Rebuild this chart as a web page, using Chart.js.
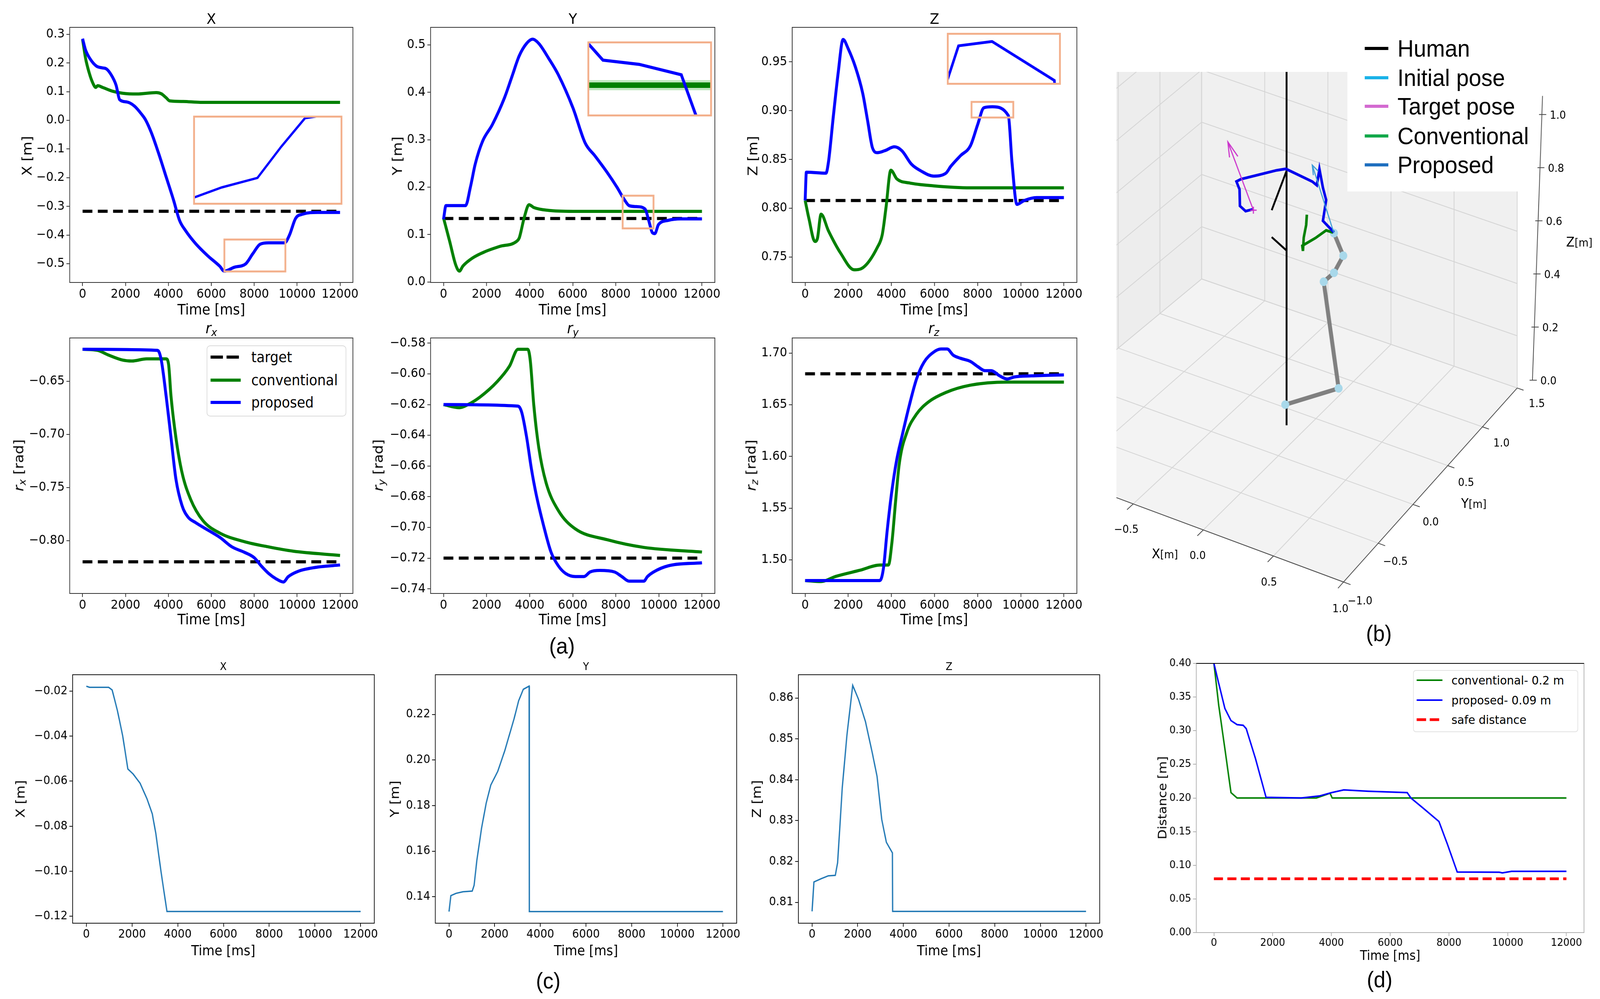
<!DOCTYPE html>
<html lang="en">
<head>
<meta charset="UTF-8">
<title>Proposed vs conventional controller</title>
<style>
  html, body { margin: 0; padding: 0; background: #fff; overflow: hidden; }
  #fig { position: absolute; left: 0; top: 0; width: 4407px; height: 2557px; transform-origin: 0 0; background: #fff;
         font-family: 'DejaVu Sans', sans-serif; color: #000; }
  canvas { position: absolute; }
  .lbl { position: absolute; white-space: nowrap; line-height: 1; transform: translate(-50%, -50%); }
  .lbl.rot { transform: translate(-50%, -50%) rotate(-90deg); }
  .lbl.left { transform: translate(0, -50%); }
  .lbl sub { font-size: 0.72em; vertical-align: -0.25em; }
  .box { position: absolute; background: #fff; box-sizing: border-box; }
  svg.key { position: absolute; overflow: visible; }
</style>
</head>
<body>
<div id="fig"></div>
<script src="https://cdn.jsdelivr.net/npm/chart.js"></script>
<script>
// ---------------- data ----------------
const timeTicks = [0, 2000, 4000, 6000, 8000, 10000, 12000];
const timeRange = [-600, 12600];
const seriesNames = ['target', 'conventional', 'proposed'];

// (a) X position
const posXPropT = [0, 137, 364, 650, 933, 1104, 1332, 1560, 1730, 2072, 2414, 2755, 2926, 3211, 3552, 3894, 4235, 4520, 4804, 5260, 5829, 6398, 6603, 7081, 7594, 7935, 8276, 8675, 9415, 9643, 9928, 10269, 10952, 12000];
const posXPropV = [0.285, 0.246, 0.213, 0.189, 0.183, 0.180, 0.159, 0.123, 0.072, 0.064, 0.050, 0.021, 0.003, -0.044, -0.117, -0.197, -0.277, -0.349, -0.385, -0.429, -0.472, -0.509, -0.526, -0.512, -0.501, -0.465, -0.432, -0.427, -0.427, -0.400, -0.342, -0.327, -0.321, -0.321];
const posXConvT = [0, 137, 307, 478, 615, 706, 933, 1389, 1844, 2527, 3438, 3666, 3894, 4064, 4691, 5488, 7537, 12000];
const posXConvV = [0.282, 0.217, 0.166, 0.130, 0.115, 0.121, 0.115, 0.102, 0.095, 0.092, 0.097, 0.093, 0.079, 0.068, 0.066, 0.063, 0.063, 0.063];
const posXTarget = -0.317;
const posXTicks = [0.3, 0.2, 0.1, 0.0, -0.1, -0.2, -0.3, -0.4, -0.5];

// (a) Y position
const posYPropT = [0, 113, 1021, 1248, 1474, 1815, 2268, 2836, 3176, 3516, 3856, 4140, 4423, 4877, 5331, 6011, 6578, 7032, 7599, 8052, 8393, 8620, 8960, 9357, 9527, 9697, 9811, 9981, 10435, 11002, 12000];
const posYPropV = [0.132, 0.161, 0.161, 0.200, 0.249, 0.297, 0.332, 0.389, 0.433, 0.477, 0.503, 0.512, 0.503, 0.472, 0.437, 0.367, 0.293, 0.266, 0.231, 0.200, 0.174, 0.161, 0.159, 0.154, 0.130, 0.104, 0.102, 0.121, 0.130, 0.133, 0.133];
const posYConvT = [0, 284, 567, 737, 907, 1361, 1928, 2609, 3403, 3516, 3743, 3970, 4196, 4877, 6011, 12000];
const posYConvV = [0.135, 0.086, 0.036, 0.023, 0.034, 0.051, 0.064, 0.075, 0.086, 0.093, 0.135, 0.163, 0.157, 0.151, 0.149, 0.149];
const posYTarget = 0.134;
const posYTicks = [0.0, 0.1, 0.2, 0.3, 0.4, 0.5];

// (a) Z position
const posZPropT = [0, 57, 965, 1079, 1306, 1533, 1760, 1987, 2327, 2668, 2895, 3122, 3349, 3690, 4144, 4484, 4938, 5393, 5960, 6528, 6755, 7209, 7663, 8004, 8288, 8685, 9423, 9593, 9820, 10161, 10729, 12000];
const posZPropV = [0.808, 0.837, 0.836, 0.847, 0.894, 0.939, 0.973, 0.964, 0.945, 0.918, 0.890, 0.862, 0.857, 0.859, 0.863, 0.859, 0.845, 0.838, 0.833, 0.836, 0.843, 0.854, 0.864, 0.886, 0.903, 0.904, 0.895, 0.847, 0.804, 0.808, 0.811, 0.811];
const posZConvT = [0, 170, 454, 568, 738, 1079, 1646, 2271, 2668, 3349, 3576, 3746, 3973, 4257, 4825, 5960, 7663, 12000];
const posZConvV = [0.808, 0.790, 0.766, 0.769, 0.794, 0.777, 0.754, 0.737, 0.739, 0.760, 0.773, 0.800, 0.839, 0.830, 0.826, 0.823, 0.821, 0.821];
const posZTarget = 0.808;
const posZTicks = [0.75, 0.80, 0.85, 0.90, 0.95];

// (a) rotation rx
const rotXPropT = [0, 3495, 3666, 3894, 4121, 4349, 4634, 4918, 5260, 5829, 6398, 6967, 7537, 7992, 8333, 8675, 9017, 9358, 9586, 10042, 10952, 12000];
const rotXPropV = [-0.620, -0.621, -0.630, -0.664, -0.703, -0.742, -0.767, -0.778, -0.783, -0.790, -0.797, -0.806, -0.811, -0.816, -0.824, -0.831, -0.836, -0.839, -0.834, -0.829, -0.825, -0.823];
const rotXConvT = [0, 706, 1161, 1844, 2300, 2983, 3894, 4007, 4121, 4349, 4634, 5032, 5601, 6398, 7537, 8675, 9814, 12000];
const rotXConvV = [-0.620, -0.621, -0.625, -0.630, -0.631, -0.629, -0.629, -0.634, -0.664, -0.703, -0.736, -0.761, -0.781, -0.793, -0.801, -0.806, -0.810, -0.814];
const rotXTarget = -0.820;
const rotXTicks = [-0.65, -0.70, -0.75, -0.80];

// (a) rotation ry
const rotYPropT = [0, 3459, 3630, 3856, 4083, 4310, 4650, 4990, 5331, 5671, 6125, 6522, 6805, 7259, 7939, 8279, 8620, 9300, 9470, 9754, 10435, 12000];
const rotYPropV = [-0.620, -0.621, -0.625, -0.641, -0.662, -0.679, -0.699, -0.716, -0.725, -0.730, -0.732, -0.732, -0.729, -0.728, -0.729, -0.732, -0.735, -0.735, -0.732, -0.729, -0.725, -0.723];
const rotYConvT = [0, 737, 1134, 1701, 2495, 3062, 3459, 3913, 4026, 4196, 4423, 4764, 5331, 6125, 7599, 9300, 12000];
const rotYConvV = [-0.620, -0.622, -0.620, -0.615, -0.605, -0.595, -0.584, -0.584, -0.591, -0.621, -0.648, -0.671, -0.689, -0.701, -0.708, -0.713, -0.716];
const rotYTarget = -0.720;
const rotYTicks = [-0.58, -0.60, -0.62, -0.64, -0.66, -0.68, -0.70, -0.72, -0.74];

// (a) rotation rz
const rotZPropT = [0, 3463, 3633, 3803, 4030, 4257, 4484, 4825, 5165, 5506, 5960, 6301, 6585, 6868, 7209, 7663, 8004, 8345, 8629, 9026, 9367, 9707, 10502, 12000];
const rotZPropV = [1.480, 1.480, 1.492, 1.528, 1.568, 1.598, 1.619, 1.649, 1.675, 1.691, 1.701, 1.704, 1.704, 1.698, 1.695, 1.692, 1.687, 1.683, 1.683, 1.678, 1.675, 1.677, 1.678, 1.679];
const rotZConvT = [0, 738, 1419, 2554, 3463, 3860, 4030, 4200, 4371, 4711, 5165, 5733, 6528, 7663, 9367, 12000];
const rotZConvV = [1.480, 1.479, 1.484, 1.490, 1.495, 1.495, 1.518, 1.558, 1.594, 1.623, 1.641, 1.653, 1.662, 1.669, 1.672, 1.672];
const rotZTarget = 1.680;
const rotZTicks = [1.50, 1.55, 1.60, 1.65, 1.70];

// (c) single trajectory
const cXT = [0, 137, 977, 1130, 1359, 1588, 1817, 2046, 2351, 2656, 2885, 3038, 3267, 3527, 12000];
const cXV = [-0.0178, -0.0183, -0.0183, -0.0195, -0.0286, -0.0397, -0.0546, -0.0568, -0.0609, -0.0679, -0.0745, -0.0831, -0.1002, -0.1179, -0.1179];
const cXTicks = [-0.02, -0.04, -0.06, -0.08, -0.10, -0.12];
const cYT = [0, 81, 305, 610, 1017, 1098, 1220, 1424, 1627, 1830, 2135, 2440, 2644, 2847, 3051, 3254, 3509, 3519, 12000];
const cYV = [0.1335, 0.1405, 0.1415, 0.1422, 0.1425, 0.145, 0.156, 0.170, 0.181, 0.189, 0.195, 0.204, 0.211, 0.218, 0.226, 0.231, 0.2324, 0.1335, 0.1335];
const cYTicks = [0.14, 0.16, 0.18, 0.20, 0.22];
const cZT = [0, 81, 407, 712, 1017, 1119, 1322, 1525, 1780, 2034, 2339, 2644, 2847, 3051, 3254, 3519, 3529, 12000];
const cZV = [0.8078, 0.815, 0.8158, 0.8165, 0.8166, 0.8197, 0.838, 0.8508, 0.8631, 0.8597, 0.8542, 0.8464, 0.8408, 0.8303, 0.8247, 0.8221, 0.8078, 0.8078];
const cZTicks = [0.81, 0.82, 0.83, 0.84, 0.85, 0.86];

// (d) distance
const distPropT = [0, 166, 374, 581, 789, 997, 1100, 1412, 1775, 2969, 3592, 4007, 4422, 5252, 6581, 6706, 7121, 7661, 7951, 8283, 9716, 9819, 10131, 12000];
const distPropV = [0.40, 0.370, 0.333, 0.315, 0.309, 0.308, 0.303, 0.259, 0.201, 0.200, 0.203, 0.208, 0.212, 0.210, 0.208, 0.200, 0.185, 0.165, 0.131, 0.090, 0.0897, 0.0887, 0.091, 0.091];
const distConvT = [0, 166, 374, 581, 789, 3488, 3955, 4027, 12000];
const distConvV = [0.40, 0.337, 0.273, 0.208, 0.200, 0.200, 0.207, 0.200, 0.200];
const safeDistance = 0.08;
const distTicks = [0.00, 0.05, 0.10, 0.15, 0.20, 0.25, 0.30, 0.35, 0.40];
const distNames = ['conventional- 0.2 m', 'proposed- 0.09 m', 'safe distance'];

// (b) 3D scene, world coordinates [x, y, z] in m
const humanPole = [[-0.125, 0.33, 0], [-0.125, 0.33, 1.4]];
const humanArmA = [[-0.125, 0.33, 0.974], [-0.237, 0.33, 0.803]];
const humanArmB = [[-0.125, 0.33, 0.669], [-0.237, 0.33, 0.700]];
const robotJoints = [[-0.25, 0.53, 0], [-0.045, 0.88, 0], [-0.16, 0.88, 0.388], [-0.081, 0.88, 0.436], [-0.009, 0.88, 0.514], [-0.081, 0.88, 0.588]];
const propPath3d = [[-0.081, 0.88, 0.591], [-0.166, 0.88, 0.620], [-0.141, 0.88, 0.704], [-0.166, 0.88, 0.747], [-0.193, 0.88, 0.814], [-0.213, 0.88, 0.748], [-0.248, 0.88, 0.756], [-0.452, 0.88, 0.769], [-0.523, 0.88, 0.751], [-0.798, 0.88, 0.669], [-0.833, 0.88, 0.654], [-0.809, 0.88, 0.628], [-0.806, 0.88, 0.565], [-0.762, 0.88, 0.553], [-0.702, 0.88, 0.571]];
const convPath3d = [[-0.089, 0.88, 0.589], [-0.141, 0.88, 0.588], [-0.224, 0.88, 0.544], [-0.295, 0.88, 0.511], [-0.325, 0.88, 0.497], [-0.320, 0.88, 0.478], [-0.314, 0.88, 0.530], [-0.295, 0.88, 0.582], [-0.290, 0.88, 0.622]];
const targetShaft = [[-0.702, 0.88, 0.567], [-0.899, 0.88, 0.794]];
const targetHead = [[-0.886, 0.88, 0.737], [-0.899, 0.88, 0.794], [-0.822, 0.88, 0.752]];
const initShaft = [[-0.081, 0.88, 0.588], [-0.248, 0.88, 0.819]];
const initHead = [[-0.240, 0.88, 0.782], [-0.248, 0.88, 0.819], [-0.202, 0.88, 0.804]];
const x3Grid = [-1.5, -1.0, -0.5, 0.0, 0.5, 1.0];
const x3Labels = [-0.5, 0.0, 0.5, 1.0];
const y3Ticks = [-1.0, -0.5, 0.0, 0.5, 1.0, 1.5];
const z3Ticks = [0.0, 0.2, 0.4, 0.6, 0.8, 1.0];
const sceneNames = ['Human', 'Initial pose', 'Target pose', 'Conventional', 'Proposed'];

// ---------------- page scaling ----------------
// the figure is laid out on a 4407 x 2557 grid and stretched to the viewport
const fig = document.getElementById('fig');
const FIG_W = 4407, FIG_H = 2557;
const fitX = (window.innerWidth || FIG_W) / FIG_W;
const fitY = (window.innerHeight || FIG_H) / FIG_H;
fig.style.transform = 'scale(' + fitX + ',' + fitY + ')';
document.body.style.width = (FIG_W * fitX) + 'px';
document.body.style.height = (FIG_H * fitY) + 'px';

// ---------------- helpers ----------------
const FONT = "'DejaVu Sans', sans-serif";
const ARIAL = "'Liberation Sans', Arial, sans-serif";
const BLUE = '#0000ff', GREEN = '#008000', ORANGE = '#f3b08c';

function fmt(v, dec) { return v.toFixed(dec).replace('-', '\u2212'); }
function pts(t, v) { return t.map((x, i) => ({ x: x, y: v[i] })); }

function addCanvas(l, t, w, h) {
  const c = document.createElement('canvas');
  c.width = w; c.height = h;
  c.style.left = l + 'px'; c.style.top = t + 'px';
  c.style.width = w + 'px'; c.style.height = h + 'px';
  fig.appendChild(c);
  return c;
}

function label(html, x, y, size, cls, family) {
  const d = document.createElement('div');
  d.className = 'lbl' + (cls ? ' ' + cls : '');
  d.innerHTML = html;
  d.style.left = x + 'px'; d.style.top = y + 'px'; d.style.fontSize = size + 'px';
  if (family) d.style.fontFamily = family;
  fig.appendChild(d);
  return d;
}

function series(t, v, color, width, extra) {
  return Object.assign({ data: pts(t, v), borderColor: color, borderWidth: width, pointRadius: 0,
    fill: false, cubicInterpolationMode: 'monotone' }, extra || {});
}
function straight(t, v, color, width, extra) {
  return series(t, v, color, width, Object.assign({ cubicInterpolationMode: 'default', tension: 0 }, extra || {}));
}
function level(val, color, width, dash) {
  return straight([0, 12000], [val, val], color, width, { borderDash: dash });
}

// box around the plot area, like matplotlib spines
const framePlugin = {
  id: 'frame',
  afterDraw(chart, args, o) {
    const a = chart.chartArea, ctx = chart.ctx;
    ctx.save();
    ctx.lineWidth = o.width || 2;
    ctx.strokeStyle = o.color || '#333';
    ctx.strokeRect(a.left, a.top, a.right - a.left, a.bottom - a.top);
    if (o.topColor) {
      ctx.strokeStyle = o.topColor;
      ctx.beginPath(); ctx.moveTo(a.left, a.top); ctx.lineTo(a.right, a.top); ctx.stroke();
    }
    ctx.restore();
  }
};

// orange rectangle marking the zoomed region
const zoomRectPlugin = {
  id: 'zoomRect',
  afterDatasetsDraw(chart, args, o) {
    if (!o.rect) return;
    const sx = chart.scales.x, sy = chart.scales.y, r = o.rect, ctx = chart.ctx;
    const x0 = sx.getPixelForValue(r[0]), x1 = sx.getPixelForValue(r[1]);
    const y0 = sy.getPixelForValue(r[2]), y1 = sy.getPixelForValue(r[3]);
    ctx.save();
    ctx.strokeStyle = ORANGE; ctx.lineWidth = 5;
    ctx.strokeRect(x0, y1, x1 - x0, y0 - y1);
    ctx.restore();
  }
};

const insetPlugin = {
  id: 'insetBox',
  beforeDraw(chart) {
    const a = chart.chartArea, ctx = chart.ctx;
    ctx.save(); ctx.fillStyle = '#fff';
    ctx.fillRect(a.left, a.top, a.right - a.left, a.bottom - a.top);
    ctx.restore();
  },
  afterDraw(chart) {
    const a = chart.chartArea, ctx = chart.ctx;
    ctx.save(); ctx.strokeStyle = ORANGE; ctx.lineWidth = 5;
    ctx.strokeRect(a.left + 2.5, a.top + 2.5, a.right - a.left - 5, a.bottom - a.top - 5);
    ctx.restore();
  }
};

function linePlot(o) {
  const [l, t, r, b] = o.box, [pl, pt, pr, pb] = o.pad;
  const cv = addCanvas(l - pl, t - pt, r - l + pl + pr, b - t + pt + pb);
  const font = { family: FONT, size: o.fontSize };
  const axisCol = o.axisColor || '#333';
  const grid = { drawOnChartArea: false, drawTicks: true, tickLength: 9, color: axisCol, lineWidth: 2 };
  return new Chart(cv, {
    type: 'line',
    data: { datasets: o.datasets },
    plugins: [framePlugin, zoomRectPlugin],
    options: {
      responsive: false, animation: false, devicePixelRatio: 1,
      layout: { padding: { left: 0, top: pt, right: pr, bottom: 0 } },
      plugins: {
        legend: { display: false }, tooltip: { enabled: false },
        frame: { color: axisCol, topColor: o.topColor },
        zoomRect: { rect: o.rect }
      },
      scales: {
        x: {
          type: 'linear', min: timeRange[0], max: timeRange[1],
          afterBuildTicks: s => { s.ticks = timeTicks.map(v => ({ value: v })); },
          afterFit: s => { s.height = pb; },
          ticks: { font: font, color: '#000', padding: 2, maxRotation: 0, autoSkip: false, callback: v => fmt(v, 0) },
          grid: grid, border: { display: true, color: axisCol, width: 2 }
        },
        y: {
          type: 'linear', min: o.yRange[0], max: o.yRange[1],
          afterBuildTicks: s => { s.ticks = o.yTicks.map(v => ({ value: v })); },
          afterFit: s => { s.width = pl; },
          ticks: { font: font, color: '#000', padding: 5, autoSkip: false, callback: v => fmt(v, o.dec) },
          grid: grid, border: { display: true, color: axisCol, width: 2 }
        }
      }
    }
  });
}

function inset(box, xr, yr, datasets) {
  const [l, t, r, b] = box;
  const cv = addCanvas(l, t, r - l, b - t);
  return new Chart(cv, {
    type: 'line',
    data: { datasets: datasets },
    plugins: [insetPlugin],
    options: {
      responsive: false, animation: false, devicePixelRatio: 1,
      layout: { padding: 0 },
      plugins: { legend: { display: false }, tooltip: { enabled: false } },
      scales: {
        x: { type: 'linear', min: xr[0], max: xr[1], display: false },
        y: { type: 'linear', min: yr[0], max: yr[1], display: false }
      }
    }
  });
}

function legend(o) {
  if (o.box) {
    const d = document.createElement('div');
    d.className = 'box';
    d.style.left = o.box[0] + 'px'; d.style.top = o.box[1] + 'px';
    d.style.width = (o.box[2] - o.box[0]) + 'px'; d.style.height = (o.box[3] - o.box[1]) + 'px';
    if (o.border) { d.style.border = o.border; d.style.borderRadius = o.radius + 'px'; }
    fig.appendChild(d);
  }
  const ns = 'http://www.w3.org/2000/svg';
  o.rows.forEach((row, i) => {
    const y = o.y[i], w = o.x2 - o.x1;
    const svg = document.createElementNS(ns, 'svg');
    svg.setAttribute('class', 'key');
    svg.setAttribute('width', w); svg.setAttribute('height', 20);
    svg.style.left = o.x1 + 'px'; svg.style.top = (y - 10) + 'px';
    const ln = document.createElementNS(ns, 'line');
    ln.setAttribute('x1', 0); ln.setAttribute('y1', 10); ln.setAttribute('x2', w); ln.setAttribute('y2', 10);
    ln.setAttribute('stroke', row.color); ln.setAttribute('stroke-width', row.lw || o.lw);
    if (row.dash) ln.setAttribute('stroke-dasharray', row.dash.join(' '));
    svg.appendChild(ln);
    fig.appendChild(svg);
    label(row.text, o.tx, y, o.size, 'left', o.family);
  });
}

// ---------------- (a) six comparison plots ----------------
const padA = [130, 30, 70, 60];
const dashA = [27, 15];

function trio(propT, propV, convT, convV, target) {
  return [
    series(propT, propV, BLUE, 8),
    series(convT, convV, GREEN, 8),
    level(target, '#000', 8, dashA)
  ];
}

linePlot({ box: [192, 70, 972, 723], pad: padA, fontSize: 32, yRange: [-0.5654, 0.3245], yTicks: posXTicks, dec: 1,
  datasets: trio(posXPropT, posXPropV, posXConvT, posXConvV, posXTarget), rect: [6609, 9452, -0.527, -0.4156] });
linePlot({ box: [1186, 70, 1969, 723], pad: padA, fontSize: 32, yRange: [-0.001, 0.537], yTicks: posYTicks, dec: 1,
  datasets: trio(posYPropT, posYPropV, posYConvT, posYConvV, posYTarget), rect: [8318, 9751, 0.113, 0.182] });
linePlot({ box: [2182, 70, 2966, 723], pad: padA, fontSize: 32, yRange: [0.724, 0.9854], yTicks: posZTicks, dec: 2,
  datasets: trio(posZPropT, posZPropV, posZConvT, posZConvV, posZTarget), rect: [7717, 9653, 0.893, 0.909] });
linePlot({ box: [192, 865, 972, 1519], pad: padA, fontSize: 32, yRange: [-0.8498, -0.6093], yTicks: rotXTicks, dec: 2,
  datasets: trio(rotXPropT, rotXPropV, rotXConvT, rotXConvV, rotXTarget) });
linePlot({ box: [1186, 865, 1969, 1519], pad: padA, fontSize: 32, yRange: [-0.743, -0.5766], yTicks: rotYTicks, dec: 2,
  datasets: trio(rotYPropT, rotYPropV, rotYConvT, rotYConvV, rotYTarget) });
linePlot({ box: [2182, 865, 2966, 1519], pad: padA, fontSize: 32, yRange: [1.4675, 1.7147], yTicks: rotZTicks, dec: 2,
  datasets: trio(rotZPropT, rotZPropV, rotZConvT, rotZConvV, rotZTarget) });

// zoomed insets
inset([532, 296, 943, 524], [6671, 8814], [-0.532, -0.429], [straight(posXPropT, posXPropV, BLUE, 6)]);
inset([1618, 106, 1961, 298], [8474, 9646], [0.134, 0.170], [
  straight(posYPropT, posYPropV, BLUE, 8),
  straight(posYConvT, posYConvV, GREEN, 14),
  straight(posYConvT, posYConvV, 'rgba(0,160,0,0.25)', 26)
]);
inset([2608, 84, 2922, 217], [8150, 9500], [0.894, 0.906], [straight(posZPropT, posZPropV, BLUE, 7)]);

// labels of (a)
[['X', 582], ['Y', 1578], ['Z', 2574]].forEach(p => label(p[0], p[1], 48, 38));
[['<i>r<sub>x</sub></i>', 582], ['<i>r<sub>y</sub></i>', 1578], ['<i>r<sub>z</sub></i>', 2572]].forEach(p => label(p[0], p[1], 843, 38));
[582, 1577, 2573].forEach(x => { label('Time [ms]', x, 792, 37); label('Time [ms]', x, 1585, 37); });
label('X [m]', 74, 399, 37, 'rot');
label('Y [m]', 1094, 399, 37, 'rot');
label('Z [m]', 2073, 399, 37, 'rot');
label('<i>r<sub>x</sub></i> [rad]', 54, 1191, 37, 'rot');
label('<i>r<sub>y</sub></i> [rad]', 1044, 1191, 37, 'rot');
label('<i>r<sub>z</sub></i> [rad]', 2071, 1191, 37, 'rot');

legend({ box: [569, 884, 954, 1066], border: '2px solid #dadada', radius: 10,
  x1: 580, x2: 663, tx: 692, y: [914, 973, 1030], lw: 8, size: 37, family: FONT,
  rows: [
    { text: seriesNames[0], color: '#000', dash: [34, 10] },
    { text: seriesNames[1], color: GREEN },
    { text: seriesNames[2], color: BLUE }
  ] });

// ---------------- (c) single-trajectory plots ----------------
const padC = [130, 30, 70, 55];
const C_BLUE = '#1f77b4';
function single(t, v) { return [straight(t, v, C_BLUE, 3.5)]; }

linePlot({ box: [200, 1727, 1031, 2363], pad: padC, fontSize: 30, axisColor: '#111', yRange: [-0.1231, -0.0127], yTicks: cXTicks, dec: 2, datasets: single(cXT, cXV) });
linePlot({ box: [1199, 1727, 2029, 2363], pad: padC, fontSize: 30, axisColor: '#111', yRange: [0.1284, 0.2374], yTicks: cYTicks, dec: 2, datasets: single(cYT, cYV) });
linePlot({ box: [2199, 1727, 3029, 2363], pad: padC, fontSize: 30, axisColor: '#111', yRange: [0.8049, 0.8657], yTicks: cZTicks, dec: 2, datasets: single(cZT, cZV) });

[['X', 615], ['Y', 1614], ['Z', 2614]].forEach(p => {
  label(p[0], p[1], 1705, 27);
  label('Time [ms]', p[1], 2433, 35);
});
label('X [m]', 56, 2045, 35, 'rot');
label('Y [m]', 1087, 2045, 35, 'rot');
label('Z [m]', 2084, 2045, 35, 'rot');

// ---------------- (d) distance ----------------
linePlot({ box: [3295, 1698, 4363, 2387], pad: [110, 30, 44, 55], fontSize: 27, axisColor: '#b0b0b0', topColor: '#000',
  yRange: [0, 0.40], yTicks: distTicks, dec: 2,
  datasets: [
    straight(distPropT, distPropV, BLUE, 4),
    straight(distConvT, distConvV, GREEN, 4),
    level(safeDistance, '#ff0000', 7, [25, 12])
  ] });
label('Time [ms]', 3829, 2445, 33);
label('Distance [m]', 3201, 2042, 33, 'rot');
legend({ box: [3892, 1715, 4347, 1874], border: '2px solid #e2e2e2', radius: 8,
  x1: 3902, x2: 3973, tx: 3998, y: [1741, 1792, 1842], lw: 4, size: 31, family: FONT,
  rows: [
    { text: distNames[0], color: GREEN },
    { text: distNames[1], color: BLUE },
    { text: distNames[2], color: '#ff0000', lw: 7, dash: [26, 10] }
  ] });

// ---------------- (b) 3D scene ----------------
// camera: screen position of the four floor corners and vertical scale (figure px)
const cam = { x0: -1.5, x1: 1.0, y0: -1.0, y1: 1.5, zTop: 1.07, zPx: 680,
  A: [2717, 1161], B: [3700, 1500], C: [4187, 995], D: [3302, 711] };
const view = { left: 3063, top: 172, right: 4407, bottom: 1600 };

function proj(x, y, z) {
  const u = (x - cam.x0) / (cam.x1 - cam.x0), v = (y - cam.y0) / (cam.y1 - cam.y0);
  const fx = cam.A[0] + u * (cam.B[0] - cam.A[0]), fy = cam.A[1] + u * (cam.B[1] - cam.A[1]);
  const bx = cam.D[0] + u * (cam.C[0] - cam.D[0]), by = cam.D[1] + u * (cam.C[1] - cam.D[1]);
  return { x: fx + v * (bx - fx), y: fy + v * (by - fy) - z * cam.zPx };
}
const P3 = arr => arr.map(p => proj(p[0], p[1], p[2]));

const panePlugin = {
  id: 'panes',
  beforeDatasetsDraw(chart) {
    const ctx = chart.ctx, a = chart.chartArea, sx = chart.scales.x, sy = chart.scales.y;
    const P = (x, y, z) => { const q = proj(x, y, z); return [sx.getPixelForValue(q.x), sy.getPixelForValue(q.y)]; };
    const poly = (list, fill) => {
      ctx.beginPath();
      list.forEach((q, i) => i ? ctx.lineTo(q[0], q[1]) : ctx.moveTo(q[0], q[1]));
      ctx.closePath(); ctx.fillStyle = fill; ctx.fill();
    };
    const seg = (p, q) => { ctx.beginPath(); ctx.moveTo(p[0], p[1]); ctx.lineTo(q[0], q[1]); ctx.stroke(); };
    const { x0, x1, y0, y1, zTop } = cam;
    ctx.save();
    ctx.beginPath(); ctx.rect(a.left, a.top, a.right - a.left, a.bottom - a.top); ctx.clip();
    poly([P(x0, y0, 0), P(x1, y0, 0), P(x1, y1, 0), P(x0, y1, 0)], '#f3f3f3');
    poly([P(x0, y0, 0), P(x0, y1, 0), P(x0, y1, zTop), P(x0, y0, zTop)], '#ededed');
    poly([P(x0, y1, 0), P(x1, y1, 0), P(x1, y1, zTop), P(x0, y1, zTop)], '#f0f0f0');
    ctx.strokeStyle = '#d4d4d4'; ctx.lineWidth = 2;
    x3Grid.forEach(x => { seg(P(x, y0, 0), P(x, y1, 0)); seg(P(x, y1, 0), P(x, y1, zTop)); });
    y3Ticks.forEach(y => { seg(P(x0, y, 0), P(x1, y, 0)); seg(P(x0, y, 0), P(x0, y, zTop)); });
    z3Ticks.forEach(z => { seg(P(x0, y0, z), P(x0, y1, z)); seg(P(x0, y1, z), P(x1, y1, z)); });
    ctx.strokeStyle = '#444'; ctx.lineWidth = 2;
    seg(P(x0, y0, 0), P(x1, y0, 0));
    seg(P(x1, y0, 0), P(x1, y1, 0));
    x3Labels.forEach(x => seg(P(x, y0, 0), P(x, y0 - 0.08, 0)));
    y3Ticks.forEach(y => seg(P(x1, y, 0), P(x1 + 0.05, y, 0)));
    const c = P(x1, y1, 0);
    seg([c[0] + 42, c[1] - 20], [c[0] + 42 + 26 * zTop, c[1] - 20 - cam.zPx * zTop]);
    z3Ticks.forEach(z => {
      const zx = c[0] + 42 + 26 * z, zy = c[1] - 20 - cam.zPx * z;
      seg([zx - 8, zy], [zx + 12, zy]);
    });
    ctx.restore();
  }
};

const line3 = (arr, color, width, extra) => Object.assign({ data: P3(arr), showLine: true, borderColor: color,
  borderWidth: width, pointRadius: 0, tension: 0, clip: 0 }, extra || {});

new Chart(addCanvas(view.left, view.top, view.right - view.left, view.bottom - view.top), {
  type: 'scatter',
  data: {
    datasets: [
      line3(targetHead, '#cc33cc', 3),
      line3(targetShaft, '#cc33cc', 3),
      line3([targetShaft[0]], '#cc33cc', 3, { showLine: false, pointRadius: 9, pointStyle: 'cross', pointBorderColor: '#cc33cc', pointBorderWidth: 3 }),
      line3(initHead, '#3b9bd6', 3),
      line3(initShaft, '#3b9bd6', 3),
      line3(propPath3d, '#0000ee', 7),
      line3(convPath3d, GREEN, 7),
      line3(robotJoints, '#808080', 0, { showLine: false, pointRadius: 11, pointBackgroundColor: '#a8d8ea', pointBorderWidth: 0 }),
      line3(robotJoints, '#808080', 11),
      line3(humanArmA, '#000', 5),
      line3(humanArmB, '#000', 5),
      line3(humanPole, '#000', 5)
    ]
  },
  plugins: [panePlugin],
  options: {
    responsive: false, animation: false, devicePixelRatio: 1,
    layout: { padding: 0 },
    plugins: { legend: { display: false }, tooltip: { enabled: false } },
    scales: {
      x: { type: 'linear', min: view.left, max: view.right, display: false },
      y: { type: 'linear', min: view.top, max: view.bottom, reverse: true, display: false }
    }
  }
});

// 3D axis labels
x3Labels.forEach(x => { const q = proj(x, cam.y0, 0); label(fmt(x, 1), q.x - 8, q.y + 58, 28); });
(() => { const q = proj(-0.25, cam.y0, 0); label('<span style="font-size:34px">X</span>[m]', q.x, q.y + 86, 28); })();
y3Ticks.forEach(y => { const q = proj(cam.x1, y, 0); label(fmt(y, 1), q.x + 46, q.y + 38, 28); });
(() => { const q = proj(cam.x1, 0.25, 0); label('<span style="font-size:34px">Y</span>[m]', q.x + 116, q.y + 40, 28); })();
z3Ticks.forEach(z => { const q = proj(cam.x1, cam.y1, 0); label(fmt(z, 1), q.x + 78 + 26 * z, q.y - 20 - cam.zPx * z, 28); });
(() => { const q = proj(cam.x1, cam.y1, 0); label('<span style="font-size:34px">Z</span>[m]', q.x + 163, q.y - 376, 28); })();

legend({ box: [3711, 172, 4235, 490], x1: 3759, x2: 3824, tx: 3849, y: [124, 199, 272, 348, 422], lw: 8, size: 62, family: ARIAL,
  rows: [
    { text: sceneNames[0], color: '#000' },
    { text: sceneNames[1], color: '#1ab2e8' },
    { text: sceneNames[2], color: '#d36ad0' },
    { text: sceneNames[3], color: '#12a84a' },
    { text: sceneNames[4], color: '#1f6fbf' }
  ] });

// panel letters
label('(a)', 1548, 1653, 58, '', ARIAL);
label('(b)', 3798, 1621, 58, '', ARIAL);
label('(c)', 1510, 2510, 58, '', ARIAL);
label('(d)', 3800, 2507, 58, '', ARIAL);
</script>
</body>
</html>
